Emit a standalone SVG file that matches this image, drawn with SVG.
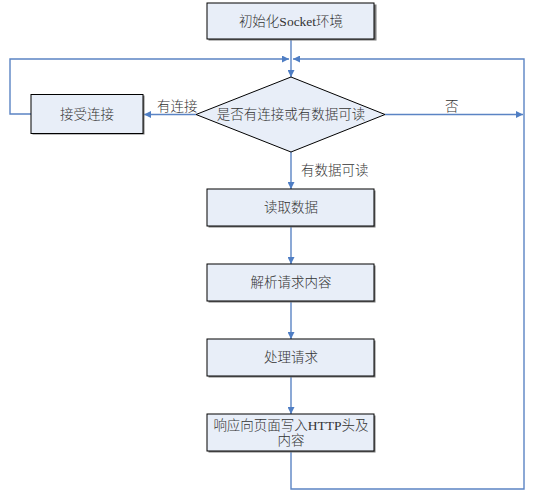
<svg xmlns="http://www.w3.org/2000/svg" width="554" height="500" viewBox="0 0 554 500">
<style>
  .box { fill: #e8eef8; stroke: #000000; stroke-width: 1; }
  .shadow { fill: #7a7a7a; }
  .dia { fill: #e8eef8; stroke: #000000; stroke-width: 1; }
  .t { font-family: "Liberation Serif", "Noto Sans CJK SC", serif; font-size: 13.5px; font-weight: 300; fill: #333333; text-anchor: middle; dominant-baseline: central; }
  .lbl { font-family: "Liberation Serif", "Noto Sans CJK SC", serif; font-size: 13.5px; font-weight: 300; fill: #333333; dominant-baseline: central; }
  .c { fill: none; stroke: #5b84c4; stroke-width: 1.4; }
</style>
<defs>
  <marker id="arr" viewBox="0 0 8 8" refX="8" refY="4" markerWidth="7" markerHeight="7" markerUnits="userSpaceOnUse" orient="auto">
    <path d="M0,0 L8,4 L0,8 Z" fill="#4f7ec4"/>
  </marker>
</defs>
<rect width="554" height="500" fill="#ffffff"/>

<g id="connectors">
  <path class="c" d="M291,39 V77" marker-end="url(#arr)"/>
  <path class="c" d="M196,114.5 H144" marker-end="url(#arr)"/>
  <path class="c" d="M31,114 H10 V59 H289" marker-end="url(#arr)"/>
  <path class="c" d="M385,114.5 H523" marker-end="url(#arr)"/>
  <path class="c" d="M291,152 V189" marker-end="url(#arr)"/>
  <path class="c" d="M291,227 V264" marker-end="url(#arr)"/>
  <path class="c" d="M291,302 V339" marker-end="url(#arr)"/>
  <path class="c" d="M291,377 V414" marker-end="url(#arr)"/>
  <path class="c" d="M291,451 V489 H524 V59 H293" marker-end="url(#arr)"/>
  <text class="lbl" x="157" y="106">有连接</text>
  <text class="lbl" x="445" y="106">否</text>
  <text class="lbl" x="301" y="170">有数据可读</text>
</g>

<g id="init">
  <rect class="shadow" x="208.5" y="4.5" width="168" height="36"/>
  <rect class="box" x="207" y="3" width="167" height="36"/>
  <text class="t" x="291" y="21">初始化Socket环境</text>
</g>

<g id="decision">
  <polygon class="dia" points="291,77 385,114.5 291,152 196,114.5"/>
  <text class="t" x="291" y="114.5">是否有连接或有数据可读</text>
</g>

<g id="accept">
  <rect class="shadow" x="32.5" y="95.5" width="112" height="39"/>
  <rect class="box" x="31" y="94.5" width="112" height="39"/>
  <text class="t" x="87" y="114">接受连接</text>
</g>

<g id="read">
  <rect class="shadow" x="208.5" y="190.5" width="167" height="37"/>
  <rect class="box" x="207" y="189" width="167" height="37"/>
  <text class="t" x="291" y="207.5">读取数据</text>
</g>

<g id="parse">
  <rect class="shadow" x="208.5" y="265.5" width="167" height="37"/>
  <rect class="box" x="207" y="264" width="167" height="37"/>
  <text class="t" x="291" y="282.5">解析请求内容</text>
</g>

<g id="process">
  <rect class="shadow" x="208.5" y="340.5" width="167" height="37"/>
  <rect class="box" x="207" y="339" width="167" height="37"/>
  <text class="t" x="291" y="357.5">处理请求</text>
</g>

<g id="respond">
  <rect class="shadow" x="208.5" y="415.5" width="167" height="37"/>
  <rect class="box" x="207" y="414" width="167" height="37"/>
  <text class="t" x="291" y="425">响应向页面写入HTTP头及</text>
  <text class="t" x="291" y="440">内容</text>
</g>
</svg>
